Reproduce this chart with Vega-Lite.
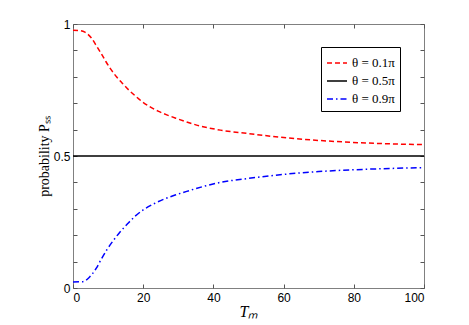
{
  "$schema": "https://vega.github.io/schema/vega-lite/v6.json",
  "width": 351,
  "height": 264,
  "autosize": {"type": "none"},
  "padding": {"left": 73, "top": 24, "right": 45, "bottom": 37},
  "background": "white",
  "config": {
    "view": {"stroke": "#808080", "strokeWidth": 1},
    "axis": {
      "domain": false,
      "grid": false,
      "tickColor": "#555555",
      "tickSize": -4,
      "labelFont": "Liberation Sans",
      "labelFontSize": 12,
      "labelColor": "black",
      "titleFont": "Liberation Serif",
      "titleFontWeight": "normal",
      "titleColor": "black"
    }
  },
  "data": {
    "values": [
      {"T": 0, "p": 0.976, "s": "θ = 0.1π"},
      {"T": 2, "p": 0.975, "s": "θ = 0.1π"},
      {"T": 3.4, "p": 0.969, "s": "θ = 0.1π"},
      {"T": 5.3, "p": 0.946, "s": "θ = 0.1π"},
      {"T": 6.7, "p": 0.917, "s": "θ = 0.1π"},
      {"T": 8, "p": 0.889, "s": "θ = 0.1π"},
      {"T": 9.4, "p": 0.857, "s": "θ = 0.1π"},
      {"T": 10.8, "p": 0.828, "s": "θ = 0.1π"},
      {"T": 12.4, "p": 0.8, "s": "θ = 0.1π"},
      {"T": 14.1, "p": 0.775, "s": "θ = 0.1π"},
      {"T": 15.9, "p": 0.75, "s": "θ = 0.1π"},
      {"T": 17.9, "p": 0.726, "s": "θ = 0.1π"},
      {"T": 19.8, "p": 0.705, "s": "θ = 0.1π"},
      {"T": 22.1, "p": 0.685, "s": "θ = 0.1π"},
      {"T": 24.4, "p": 0.669, "s": "θ = 0.1π"},
      {"T": 26.9, "p": 0.655, "s": "θ = 0.1π"},
      {"T": 29.3, "p": 0.643, "s": "θ = 0.1π"},
      {"T": 35, "p": 0.618, "s": "θ = 0.1π"},
      {"T": 42, "p": 0.598, "s": "θ = 0.1π"},
      {"T": 50, "p": 0.585, "s": "θ = 0.1π"},
      {"T": 59, "p": 0.571, "s": "θ = 0.1π"},
      {"T": 70, "p": 0.559, "s": "θ = 0.1π"},
      {"T": 84, "p": 0.549, "s": "θ = 0.1π"},
      {"T": 100, "p": 0.543, "s": "θ = 0.1π"},
      {"T": 0, "p": 0.5, "s": "θ = 0.5π"},
      {"T": 100, "p": 0.5, "s": "θ = 0.5π"},
      {"T": 0, "p": 0.023, "s": "θ = 0.9π"},
      {"T": 2.8, "p": 0.024, "s": "θ = 0.9π"},
      {"T": 4.6, "p": 0.04, "s": "θ = 0.9π"},
      {"T": 6.6, "p": 0.074, "s": "θ = 0.9π"},
      {"T": 8, "p": 0.108, "s": "θ = 0.9π"},
      {"T": 9.6, "p": 0.144, "s": "θ = 0.9π"},
      {"T": 11.5, "p": 0.18, "s": "θ = 0.9π"},
      {"T": 13.4, "p": 0.212, "s": "θ = 0.9π"},
      {"T": 15.6, "p": 0.244, "s": "θ = 0.9π"},
      {"T": 17.7, "p": 0.272, "s": "θ = 0.9π"},
      {"T": 20, "p": 0.296, "s": "θ = 0.9π"},
      {"T": 22.9, "p": 0.318, "s": "θ = 0.9π"},
      {"T": 26, "p": 0.337, "s": "θ = 0.9π"},
      {"T": 29.1, "p": 0.352, "s": "θ = 0.9π"},
      {"T": 32.4, "p": 0.366, "s": "θ = 0.9π"},
      {"T": 42, "p": 0.4, "s": "θ = 0.9π"},
      {"T": 50, "p": 0.415, "s": "θ = 0.9π"},
      {"T": 59, "p": 0.429, "s": "θ = 0.9π"},
      {"T": 70, "p": 0.441, "s": "θ = 0.9π"},
      {"T": 84, "p": 0.45, "s": "θ = 0.9π"},
      {"T": 100, "p": 0.456, "s": "θ = 0.9π"}
    ]
  },
  "resolve": {"axis": {"x": "independent", "y": "independent"}},
  "layer": [
    {
      "mark": {"type": "line", "interpolate": "monotone", "strokeWidth": 1.5},
      "encoding": {
        "x": {
          "field": "T", "type": "quantitative",
          "scale": {"domain": [0, 100], "nice": false},
          "axis": {"orient": "bottom", "values": [0, 20, 40, 60, 80, 100], "title": "Tₘ", "titleFontSize": 16, "titleFontStyle": "italic", "labelPadding": 8, "titlePadding": 0}
        },
        "y": {
          "field": "p", "type": "quantitative",
          "scale": {"domain": [0, 1], "nice": false},
          "axis": {
            "orient": "left",
            "values": [0, 0.1, 0.2, 0.3, 0.4, 0.5, 0.6, 0.7, 0.8, 0.9, 1],
            "labelExpr": "datum.value == 0 ? '0' : (abs(datum.value - 0.5) < 0.001 ? '0.5' : (datum.value == 1 ? '1' : ''))",
            "title": "probability Pₛₛ", "titleFontSize": 14, "labelPadding": 7, "titlePadding": 2
          }
        },
        "color": {
          "field": "s", "type": "nominal",
          "scale": {"domain": ["θ = 0.1π", "θ = 0.5π", "θ = 0.9π"], "range": ["#ff0000", "#000000", "#0000ff"]},
          "legend": {
            "title": null,
            "orient": "none",
            "legendX": 248,
            "legendY": 23,
            "symbolType": "stroke",
            "symbolSize": 400,
            "symbolStrokeWidth": 1.5,
            "labelFont": "Liberation Serif",
            "labelFontSize": 13,
            "labelColor": "black",
            "strokeColor": "#000000",
            "fillColor": "white",
            "padding": 5,
            "rowPadding": 0
          }
        },
        "strokeDash": {
          "field": "s", "type": "nominal",
          "scale": {"domain": ["θ = 0.1π", "θ = 0.5π", "θ = 0.9π"], "range": [[5, 3], [1, 0], [6, 3, 1.5, 3]]},
          "legend": null
        }
      }
    },
    {
      "mark": {"type": "line", "opacity": 0},
      "encoding": {
        "x": {
          "field": "T", "type": "quantitative",
          "scale": {"domain": [0, 100], "nice": false},
          "axis": {"orient": "top", "values": [0, 20, 40, 60, 80, 100], "labels": false, "title": null}
        },
        "y": {
          "field": "p", "type": "quantitative",
          "scale": {"domain": [0, 1], "nice": false},
          "axis": {"orient": "right", "values": [0, 0.1, 0.2, 0.3, 0.4, 0.5, 0.6, 0.7, 0.8, 0.9, 1], "labels": false, "title": null}
        },
        "detail": {"field": "s", "type": "nominal"}
      }
    }
  ]
}
